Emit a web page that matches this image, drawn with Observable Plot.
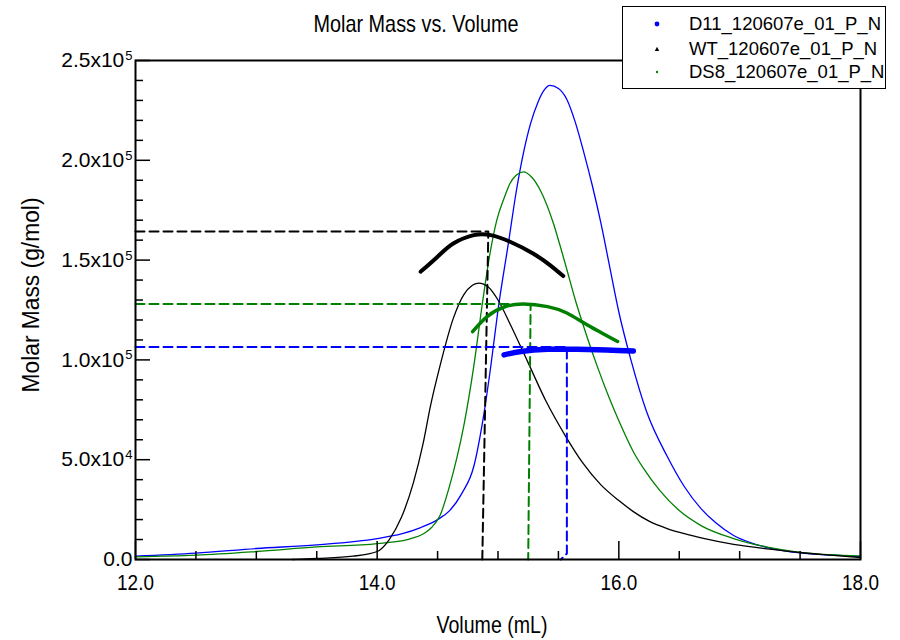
<!DOCTYPE html>
<html>
<head>
<meta charset="utf-8">
<script src="https://cdn.jsdelivr.net/npm/d3@7"></script>
<script src="https://cdn.jsdelivr.net/npm/@observablehq/plot@0.6"></script>
<style>
  body { margin: 0; background: #fff; }
  #wrap { position: relative; width: 900px; height: 640px; overflow: hidden; background: #fff; }
  #legend { position: absolute; left: 622px; top: 6px; width: 262px; height: 81px;
            border: 1.5px solid #000; background: #fff; overflow: hidden;
            font-family: "Liberation Sans", Arial, sans-serif; font-size: 18.5px; color: #000; }
  .lrow { position: absolute; left: 0; height: 22px; line-height: 22px; white-space: nowrap; }
  .lmark { position: absolute; }
  .ltext { position: absolute; left: 66px; top: 0; }
</style>
</head>
<body>
<div id="wrap"></div>
<script>
// ---- tick values ----
const xMajor = [12, 14, 16, 18];
const xMinor = [12.5, 13, 13.5, 14.5, 15, 15.5, 16.5, 17, 17.5];
const yMajor = [0, 50000, 100000, 150000, 200000, 250000];
const yMinor = [10000, 20000, 30000, 40000, 60000, 70000, 80000, 90000, 110000, 120000, 130000, 140000,
                160000, 170000, 180000, 190000, 210000, 220000, 230000, 240000];

// ---- series names / colours ----
const seriesNames = ["D11_120607e_01_P_N", "WT_120607e_01_P_N", "DS8_120607e_01_P_N"];
const seriesColors = ["#0000ff", "#000000", "#008000"];

// ---- D11 (blue) detector trace ----
const d11TraceVol = [12.0, 12.5, 13.0, 13.5, 14.0, 14.2, 14.36, 14.5, 14.6, 14.7, 14.8, 14.88, 14.94, 15.0, 15.09, 15.15,
  15.21, 15.27, 15.33, 15.38, 15.43, 15.5, 15.57, 15.64, 15.71, 15.78, 15.85, 15.92, 16.0, 16.1, 16.23, 16.4, 16.54,
  16.68, 16.8, 16.95, 17.1, 17.23, 17.5, 17.75, 18.0];
const d11TraceVal = [1650, 3150, 5500, 7350, 10500, 12800, 16000, 20000, 24500, 33000, 46700, 71700, 96700, 125000,
  160000, 184000, 203500, 218500, 229000, 235000, 237500, 236000, 230500, 219000, 204000, 187500, 169000, 148000,
  124000, 100000, 74000, 51700, 36700, 25500, 18500, 12000, 8200, 6000, 3300, 2200, 1600];

// ---- DS8 (green) detector trace ----
const ds8TraceVol = [12.0, 12.5, 13.0, 13.5, 14.0, 14.25, 14.4, 14.45, 14.52, 14.6, 14.66, 14.72, 14.8, 14.87, 14.93,
  14.99, 15.05, 15.1, 15.15, 15.21, 15.28, 15.35, 15.45, 15.54, 15.65, 15.74, 15.82, 15.92, 16.0, 16.12, 16.2, 16.34,
  16.5, 16.68, 16.95, 17.23, 17.5, 17.75, 18.0];
const ds8TraceVal = [1350, 2150, 4000, 6300, 8000, 10000, 13500, 16000, 22000, 37000, 51000, 68000, 97000, 128000,
  152000, 170000, 181000, 188500, 192500, 194200, 191500, 185000, 170000, 151700, 128000, 111000, 97000, 81000,
  69500, 54000, 46000, 34500, 24500, 17000, 10500, 6200, 3600, 2400, 1700];

// ---- WT (black) detector trace ----
const wtTraceVol = [13.3, 13.5, 13.8, 14.0, 14.1, 14.2, 14.3, 14.38, 14.44, 14.52, 14.63, 14.72, 14.84, 14.92, 15.0,
  15.1, 15.25, 15.4, 15.56, 15.7, 15.85, 16.0, 16.12, 16.25, 16.4, 16.55, 16.7, 16.95, 17.25, 17.5, 17.75, 18.0];
const wtTraceVal = [0, 500, 1650, 4000, 10000, 21000, 38500, 58000, 76600, 97000, 120800, 133000, 138500, 136500,
  130000, 118000, 98500, 79000, 61700, 48500, 37500, 29500, 24000, 19200, 15500, 12800, 10600, 7600, 5200, 3500, 2200, 1000];

// ---- molar mass points ----
const wtMassVol = [14.36, 14.5, 14.63, 14.8, 14.94, 15.1, 15.29, 15.43, 15.54];
const wtMassVal = [144200, 151700, 158300, 162500, 162500, 159200, 153300, 147500, 142000];
const ds8MassVol = [14.79, 14.91, 15.05, 15.21, 15.41, 15.57, 15.74, 15.99];
const ds8MassVal = [114200, 121700, 126500, 128000, 126700, 123500, 117500, 109200];
const d11MassVol = [15.05, 15.19, 15.41, 15.65, 15.9, 16.12];
const d11MassVal = [102500, 104200, 105300, 105300, 105000, 104500];

// ---- dashed average-marker lines ----
const wtMarkVol = [12.0, 14.92, 14.92, 14.87];
const wtMarkVal = [164300, 164300, 164300, 0];
const ds8MarkVol = [12.0, 15.27, 15.27, 15.25];
const ds8MarkVal = [128000, 128000, 128000, 0];
const d11MarkVol = [12.0, 15.57, 15.57, 15.52];
const d11MarkVal = [106500, 106500, 3000, 0];

const rows = (vx, vy) => vx.map((v, i) => ({v, m: vy[i]}));

const sci = d => {
  if (d === 0) return "0.0";
  const e = Math.floor(Math.log10(d));
  return (d / 10 ** e).toFixed(1) + "x10^" + e;
};

const font = '"Liberation Sans", Arial, sans-serif';

const chart = Plot.plot({
  width: 900, height: 640,
  marginLeft: 135, marginRight: 40, marginTop: 60, marginBottom: 81,
  x: {domain: [12, 18]},
  y: {domain: [0, 250000]},
  style: {fontFamily: font, fontSize: "22px", color: "#000", background: "#fff", overflow: "visible"},
  marks: [
    Plot.line(rows(d11TraceVol, d11TraceVal), {x: "v", y: "m", stroke: seriesColors[0], strokeWidth: 1.3, curve: "monotone-x"}),
    Plot.line(rows(ds8TraceVol, ds8TraceVal), {x: "v", y: "m", stroke: seriesColors[2], strokeWidth: 1.3, curve: "monotone-x"}),
    Plot.line(rows(wtTraceVol, wtTraceVal), {x: "v", y: "m", stroke: seriesColors[1], strokeWidth: 1.3, curve: "monotone-x"}),
    Plot.line(rows(wtMarkVol, wtMarkVal), {x: "v", y: "m", stroke: seriesColors[1], strokeWidth: 2, strokeDasharray: "9,5"}),
    Plot.line(rows(ds8MarkVol, ds8MarkVal), {x: "v", y: "m", stroke: seriesColors[2], strokeWidth: 2, strokeDasharray: "9,5"}),
    Plot.line(rows(d11MarkVol, d11MarkVal), {x: "v", y: "m", stroke: seriesColors[0], strokeWidth: 2, strokeDasharray: "9,5"}),
    Plot.line(rows(wtMassVol, wtMassVal), {x: "v", y: "m", stroke: seriesColors[1], strokeWidth: 4, strokeLinecap: "round", curve: "natural"}),
    Plot.line(rows(ds8MassVol, ds8MassVal), {x: "v", y: "m", stroke: seriesColors[2], strokeWidth: 3.5, strokeLinecap: "round", curve: "natural"}),
    Plot.line(rows(d11MassVol, d11MassVal), {x: "v", y: "m", stroke: seriesColors[0], strokeWidth: 5.5, strokeLinecap: "round", curve: "natural"}),
    Plot.axisX(xMinor, {tickSize: -8, text: null, label: null, strokeWidth: 1.5}),
    Plot.axisX(xMajor, {tickSize: -18, tickPadding: 33, tickFormat: d => d.toFixed(1), label: null, strokeWidth: 1.5}),
    Plot.axisY(yMinor, {tickSize: -8, text: null, label: null, strokeWidth: 1.5}),
    Plot.axisY(yMajor, {tickSize: -15, tickPadding: 18, tickFormat: sci, label: null, strokeWidth: 1.5, fontSize: 21}),
    Plot.frame({stroke: "#000", strokeWidth: 2})
  ]
});

const svg = d3.select(chart);
// remove any empty tick label texts
svg.selectAll("text").filter(function() { return this.textContent === ""; }).remove();

// superscript exponents on y tick labels
svg.selectAll("text").each(function() {
  const t = d3.select(this);
  const s = t.text();
  if (s.includes("x10^")) {
    const [base, exp] = s.split("^");
    t.text(base);
    t.append("tspan").attr("dx", "1").attr("dy", "-0.55em").attr("font-size", "13px").text(exp);
  }
});

svg.append("text").attr("x", 416).attr("y", 32).attr("text-anchor", "middle")
  .attr("font-size", 24).attr("font-family", font)
  .attr("textLength", 205).attr("lengthAdjust", "spacingAndGlyphs").text("Molar Mass vs. Volume");
svg.append("text").attr("x", 492).attr("y", 633).attr("text-anchor", "middle")
  .attr("font-size", 24).attr("font-family", font)
  .attr("textLength", 111).attr("lengthAdjust", "spacingAndGlyphs").text("Volume (mL)");
svg.append("text").attr("transform", "translate(39,295) rotate(-90)").attr("text-anchor", "middle")
  .attr("font-size", 23).attr("font-family", font)
  .attr("textLength", 195).attr("lengthAdjust", "spacingAndGlyphs").text("Molar Mass (g/mol)");

const wrap = document.getElementById("wrap");
wrap.appendChild(chart);

// condense x tick labels slightly (reference uses a narrow face)
svg.selectAll("g[aria-label='x-axis tick label'] text").each(function() {
  const len = this.getComputedTextLength();
  if (len > 0) {
    this.setAttribute("textLength", (len * 0.86).toFixed(1));
    this.setAttribute("lengthAdjust", "spacingAndGlyphs");
  }
});

// legend
const legend = d3.select(wrap).append("div").attr("id", "legend");
const rowTops = [6, 31, 54];
seriesNames.forEach((name, i) => {
  const r = legend.append("div").attr("class", "lrow").style("top", rowTops[i] + "px");
  const mk = r.append("svg").attr("class", "lmark").attr("width", 8).attr("height", 8)
    .style("left", "30px").style("top", "7px");
  if (i === 0) mk.append("circle").attr("cx", 4).attr("cy", 4).attr("r", 2.4).attr("fill", seriesColors[i]);
  else if (i === 1) mk.append("path").attr("d", "M4,1.8 L6.2,6 L1.8,6 Z").attr("fill", seriesColors[i]);
  else mk.append("circle").attr("cx", 4).attr("cy", 4).attr("r", 1.2).attr("fill", seriesColors[i]);
  r.append("span").attr("class", "ltext").text(name);
});
</script>
</body>
</html>
